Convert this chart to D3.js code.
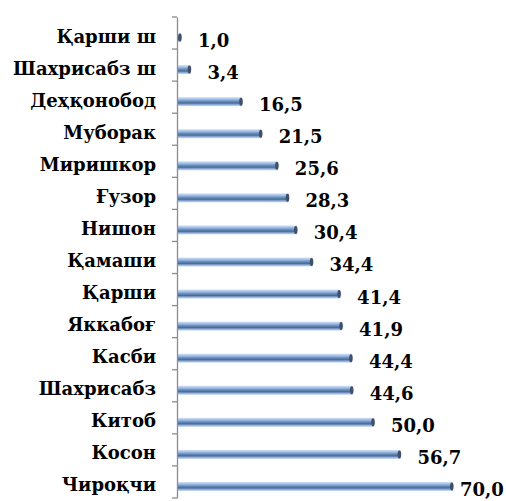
<!DOCTYPE html>
<html>
<head>
<meta charset="utf-8">
<script src="https://cdn.jsdelivr.net/npm/d3@7"></script>
<style>
  body { margin: 0; background: #fff; }
</style>
</head>
<body>
<div id="chart"></div>
<script>
// districts, top to bottom
var districts = ["Қарши ш", "Шахрисабз  ш", "Деҳқонобод", "Муборак", "Миришкор", "Ғузор", "Нишон",
                 "Қамаши", "Қарши", "Яккабоғ", "Касби", "Шахрисабз", "Китоб", "Косон", "Чироқчи"];
var values = [1.0, 3.4, 16.5, 21.5, 25.6, 28.3, 30.4, 34.4, 41.4, 41.9, 44.4, 44.6, 50.0, 56.7, 70.0];

var width = 506, height = 501;
var margin = {top: 17, bottom: 3, axis: 177};
var fontFam = "'DejaVu Serif', serif";

var data = districts.map(function(d, i) { return {name: d, value: values[i]}; });

var svg = d3.select("#chart").append("svg")
    .attr("width", width)
    .attr("height", height);

var defs = svg.append("defs");
var grad = defs.append("linearGradient")
    .attr("id", "barGrad")
    .attr("x1", 0).attr("y1", 0).attr("x2", 0).attr("y2", 1);
grad.append("stop").attr("offset", "0%").attr("stop-color", "#d3e2f5");
grad.append("stop").attr("offset", "25%").attr("stop-color", "#9bbce6");
grad.append("stop").attr("offset", "50%").attr("stop-color", "#6284b3");
grad.append("stop").attr("offset", "66%").attr("stop-color", "#4d6a94");
grad.append("stop").attr("offset", "85%").attr("stop-color", "#92b4e1");
grad.append("stop").attr("offset", "100%").attr("stop-color", "#cadcf2");

var x = d3.scaleLinear().domain([0, 80]).range([margin.axis, margin.axis + 80 * 3.94]);
var y = d3.scaleBand().domain(districts).range([margin.top, height - margin.bottom]).padding(0);

var bw = y.bandwidth();
var barOff = 0.64 * bw;  // bar centre inside the band
var barH = 9;

// axis
var axis = svg.append("g")
    .attr("transform", "translate(" + margin.axis + ",0)")
    .call(d3.axisLeft(y).tickSize(0).tickFormat(""));
axis.select(".domain").attr("stroke", "#8c8c8c").attr("stroke-width", 1.3);

var tickPos = districts.map(function(d) { return y(d); }).concat([y(districts[districts.length - 1]) + bw]);
svg.selectAll(".tk")
    .data(tickPos)
    .enter().append("line")
    .attr("class", "tk")
    .attr("x1", margin.axis - 5).attr("x2", margin.axis)
    .attr("y1", function(d) { return d; }).attr("y2", function(d) { return d; })
    .attr("stroke", "#8c8c8c").attr("stroke-width", 1.3);

// bars
var bars = svg.selectAll(".bar")
    .data(data)
    .enter().append("g")
    .attr("class", "bar");

bars.append("rect")
    .attr("x", x(0) + 1)
    .attr("y", function(d) { return y(d.name) + barOff - barH / 2; })
    .attr("width", function(d) { return Math.max(x(d.value) - x(0) - 1, 2); })
    .attr("height", barH)
    .attr("fill", "url(#barGrad)");

bars.append("ellipse")
    .attr("cx", function(d) { return x(d.value) - 1; })
    .attr("cy", function(d) { return y(d.name) + barOff; })
    .attr("rx", 1.8)
    .attr("ry", barH / 2 - 0.5)
    .attr("fill", "#3f5068");

// category labels
svg.selectAll(".cat")
    .data(data)
    .enter().append("text")
    .attr("class", "cat")
    .attr("text-anchor", "end")
    .style("font-family", fontFam)
    .style("font-weight", "bold")
    .style("font-size", "18px")
    .attr("transform", function(d) {
        return "translate(156," + (y(d.name) + barOff + 5) + ")";
    })
    .text(function(d) { return d.name; });

// value labels
var fmt = function(v) { return v.toFixed(1).replace(".", ","); };
svg.selectAll(".val")
    .data(data)
    .enter().append("text")
    .attr("class", "val")
    .style("font-family", fontFam)
    .style("font-weight", "bold")
    .style("font-size", "18px")
    .attr("transform", function(d) {
        var tx = Math.min(x(d.value) + 17, width - 46);
        return "translate(" + tx + "," + (y(d.name) + barOff + 9.5) + ")";
    })
    .text(function(d) { return fmt(d.value); });
</script>
</body>
</html>
